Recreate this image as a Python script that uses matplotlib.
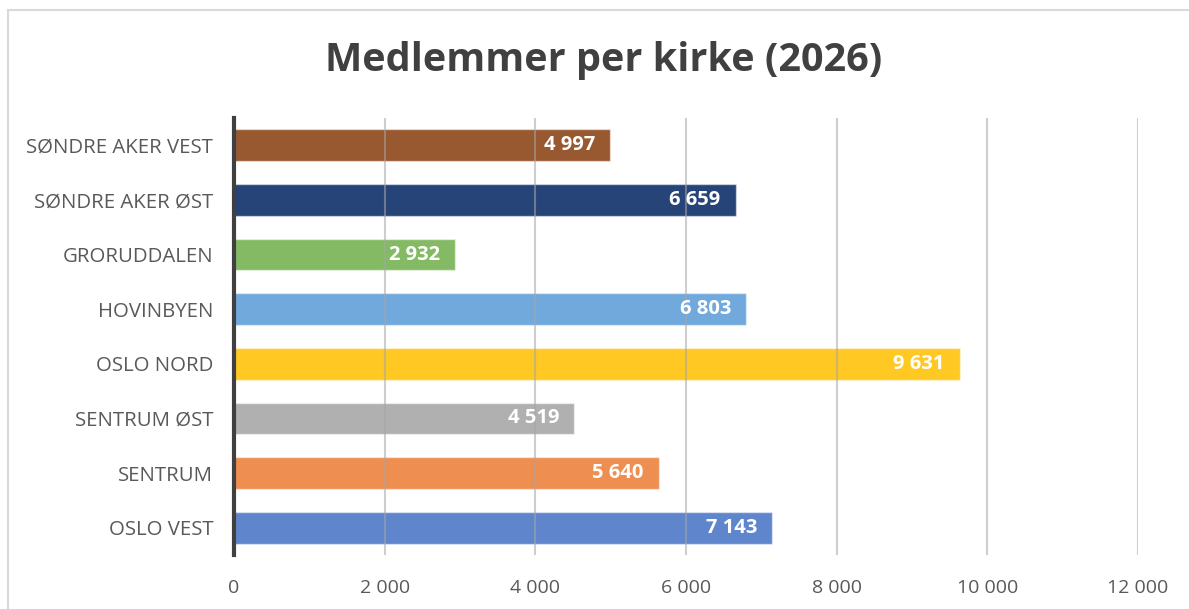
import matplotlib.pyplot as plt
from matplotlib.patches import Rectangle

# data (top to bottom as shown)
kirker = ["SØNDRE AKER VEST", "SØNDRE AKER ØST", "GRORUDDALEN", "HOVINBYEN",
          "OSLO NORD", "SENTRUM ØST", "SENTRUM", "OSLO VEST"]
medlemmer = [4997, 6659, 2932, 6803, 9631, 4519, 5640, 7143]
farger = ["#985830", "#264478", "#84BA63", "#72A9DD", "#FFC823", "#B0B0B0",
          "#EE8E50", "#5F86CD"]
xticks = [0, 2000, 4000, 6000, 8000, 10000, 12000]


def fmt(v):
    return f"{v:,}".replace(",", " ")


plt.rcParams['font.family'] = ['Open Sans', 'DejaVu Sans']

fig = plt.figure(figsize=(11.89, 6.09), dpi=100)
ax = fig.add_axes([234 / 1189, 1 - 555 / 609, (1138 - 234) / 1189, (555 - 118) / 609])

# chart border
fig.patches.append(Rectangle((8 / 1189, -0.1), 1.2, 1 - 10 / 609 + 0.1,
                             transform=fig.transFigure, fill=False,
                             edgecolor="#D9D9D9", linewidth=1.5))

pos = list(range(len(kirker)))
ax.barh(pos, medlemmer, height=0.58, color=farger,
        edgecolor=(1, 1, 1, 0.5), linewidth=1, zorder=2)

for p, v in zip(pos, medlemmer):
    ax.text(v - 200, p, fmt(v), ha="right", va="center", color="white",
            fontsize=14.5, fontweight="bold", zorder=4)

ax.set_xlim(0, 12000)
ax.set_ylim(len(kirker) - 0.5, -0.5)
ax.set_xticks(xticks)
ax.set_xticklabels([fmt(t) for t in xticks])
ax.set_yticks(pos)
ax.set_yticklabels(kirker)
ax.tick_params(axis="both", length=0, colors="#595959")
ax.tick_params(axis="x", pad=17, labelsize=14)
ax.tick_params(axis="y", pad=15, labelsize=14.7)

for t in xticks[1:]:
    ax.axvline(t, color="#A6A6A6", linewidth=1.5, alpha=0.55, zorder=3)

for s in ["top", "right", "bottom"]:
    ax.spines[s].set_visible(False)
ax.spines["left"].set_color("#404040")
ax.spines["left"].set_linewidth(3)
ax.spines["left"].set_zorder(5)

fig.text(604 / 1189, 1 - 61 / 609, "Medlemmer per kirke (2026)", ha="center",
         va="center", fontsize=28.5, fontweight="bold", color="#404040")

fig.savefig("out.png", dpi=100)
